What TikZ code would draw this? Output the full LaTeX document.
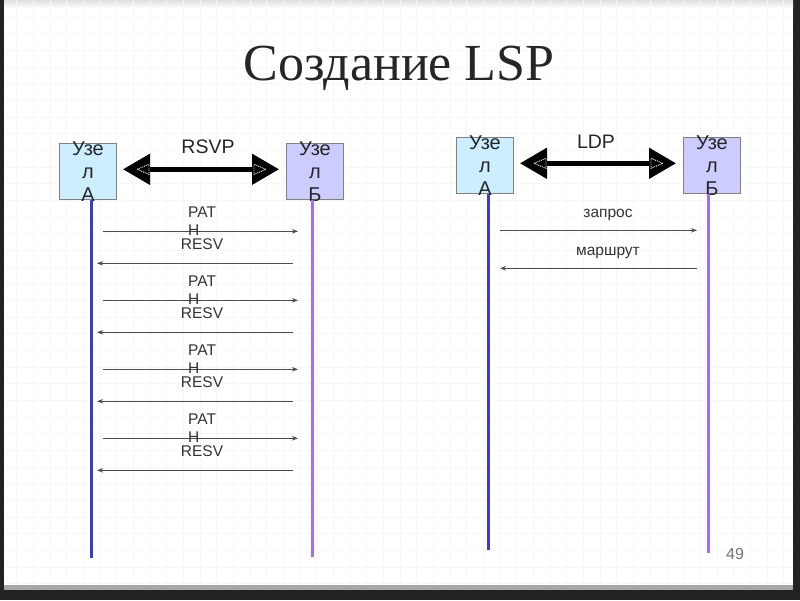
\documentclass[tikz,border=0pt]{standalone}
\usepackage{fontspec}
\setmainfont{Liberation Sans}
\newfontfamily\titlefont{Liberation Serif}
\usetikzlibrary{arrows.meta}

\definecolor{boxA}{RGB}{204,238,255}
\definecolor{boxB}{RGB}{204,204,255}
\definecolor{lineA}{RGB}{60,60,200}
\definecolor{lineB}{RGB}{160,110,250}
\definecolor{frame}{RGB}{34,34,34}

\tikzset{
  nodebox/.style={draw=black!50, line width=1pt, minimum width=57pt, minimum height=56pt, inner sep=0pt},
  nodetext/.style={align=center, font=\fontsize{20}{23}\selectfont, text=black!85, inner sep=0pt},
  life/.style={line width=3pt},
  proto/.style={line width=5pt, {Triangle[length=27pt,width=30pt]}-{Triangle[length=27pt,width=30pt]}},
  inner/.style={draw=white, densely dotted, line width=0.9pt},
  msg/.style={draw=black!70, line width=1pt, -{Stealth[length=6pt,width=4.5pt]}},
  msgtext/.style={font=\fontsize{15.5}{18}\selectfont, text=black!80, inner sep=0pt},
  prototext/.style={font=\fontsize{19.5}{22}\selectfont, text=black!85, inner sep=0pt, anchor=base}
}

\begin{document}
\begin{tikzpicture}[x=1pt,y=-1pt]

% slide
\fill[frame] (0,0) rectangle (800,600);
\fill[black!35] (4,0) rectangle (793,590);
\fill[white] (4,0) rectangle (793,585);
\shade[top color=black!12, bottom color=white] (4,0) rectangle (793,8);
\foreach \i in {1,...,47} \draw[black!3, line width=0.6pt] (\i*16.67,0) -- (\i*16.67,585);
\foreach \i in {1,...,35} \draw[black!3, line width=0.6pt] (4,\i*16.67) -- (793,\i*16.67);

\node[font=\titlefont\fontsize{52}{60}\selectfont, text=black!85, anchor=base, inner sep=0pt] (title) at (399,80) {Создание LSP};

% RSVP
\node[nodebox, fill=boxA] (ua) at (88,171) {};
\node[nodetext] (ua-t) at (ua.center) {Узе\\л\\А};
\node[nodebox, fill=boxB] (ub) at (315,171) {};
\node[nodetext] (ub-t) at (ub.center) {Узе\\л\\Б};

\coordinate (la) at (91,558);
\coordinate (lb) at (312,557);
\draw[life, lineA] (ua.south -| la) -- (la);
\draw[life, lineB] (ub.south -| lb) -- (lb);

\draw[proto, shorten <=6pt, shorten >=7pt] ([yshift=2pt]ua.east) -- ([yshift=2pt]ub.west);
\draw[inner] (137,169) -- (149,164) -- (149,174) -- cycle;
\draw[inner] (266,169) -- (254,164) -- (254,174) -- cycle;
\node[prototext] (rsvp) at (208,153) {RSVP};

\coordinate (p1a) at (103,231); \coordinate (p1b) at (298,231);
\coordinate (r1a) at (293,263); \coordinate (r1b) at (97,263);
\coordinate (p2a) at (103,300); \coordinate (p2b) at (298,300);
\coordinate (r2a) at (293,332); \coordinate (r2b) at (97,332);
\coordinate (p3a) at (103,369); \coordinate (p3b) at (298,369);
\coordinate (r3a) at (293,401); \coordinate (r3b) at (97,401);
\coordinate (p4a) at (103,438); \coordinate (p4b) at (298,438);
\coordinate (r4a) at (293,470); \coordinate (r4b) at (97,470);

\draw[msg] (p1a) -- (p1b);
\draw[msg] (r1a) -- (r1b);
\draw[msg] (p2a) -- (p2b);
\draw[msg] (r2a) -- (r2b);
\draw[msg] (p3a) -- (p3b);
\draw[msg] (r3a) -- (r3b);
\draw[msg] (p4a) -- (p4b);
\draw[msg] (r4a) -- (r4b);

\node[msgtext, align=left, anchor=north west] (path1) at (188,206) {PAT\\H};
\node[msgtext, anchor=base] (resv1) at (202,249.5) {RESV};
\node[msgtext, align=left, anchor=north west] (path2) at (188,275) {PAT\\H};
\node[msgtext, anchor=base] (resv2) at (202,318.5) {RESV};
\node[msgtext, align=left, anchor=north west] (path3) at (188,344) {PAT\\H};
\node[msgtext, anchor=base] (resv3) at (202,387.5) {RESV};
\node[msgtext, align=left, anchor=north west] (path4) at (188,413) {PAT\\H};
\node[msgtext, anchor=base] (resv4) at (202,456.5) {RESV};

% LDP
\begin{scope}[xshift=397pt, yshift=6pt]
\node[nodebox, fill=boxA] (va) at (88,171) {};
\node[nodetext] (va-t) at (va.center) {Узе\\л\\А};
\node[nodebox, fill=boxB] (vb) at (315,171) {};
\node[nodetext] (vb-t) at (vb.center) {Узе\\л\\Б};

\coordinate (ma) at (91,556);
\coordinate (mb) at (311,559);
\draw[life, lineA] (va.south -| ma) -- (ma);
\draw[life, lineB] (vb.south -| mb) -- (mb);

\draw[proto, shorten <=6pt, shorten >=7pt] ([yshift=2pt]va.east) -- ([yshift=2pt]vb.west);
\draw[inner] (137,169) -- (149,164) -- (149,174) -- cycle;
\draw[inner] (266,169) -- (254,164) -- (254,174) -- cycle;
\node[prototext] (ldp) at (199,154) {LDP};

\coordinate (qa) at (103,236); \coordinate (qb) at (300,236);
\coordinate (ra) at (300,274); \coordinate (rb) at (103,274);
\draw[msg] (qa) -- (qb);
\draw[msg] (ra) -- (rb);
\node[msgtext, anchor=base] (req) at (211,223) {запрос};
\node[msgtext, anchor=base] (route) at (211,261) {маршрут};
\end{scope}

\node[font=\fontsize{16}{18}\selectfont, text=black!55, inner sep=0pt] (page) at (735,554) {49};

\end{tikzpicture}
\end{document}
